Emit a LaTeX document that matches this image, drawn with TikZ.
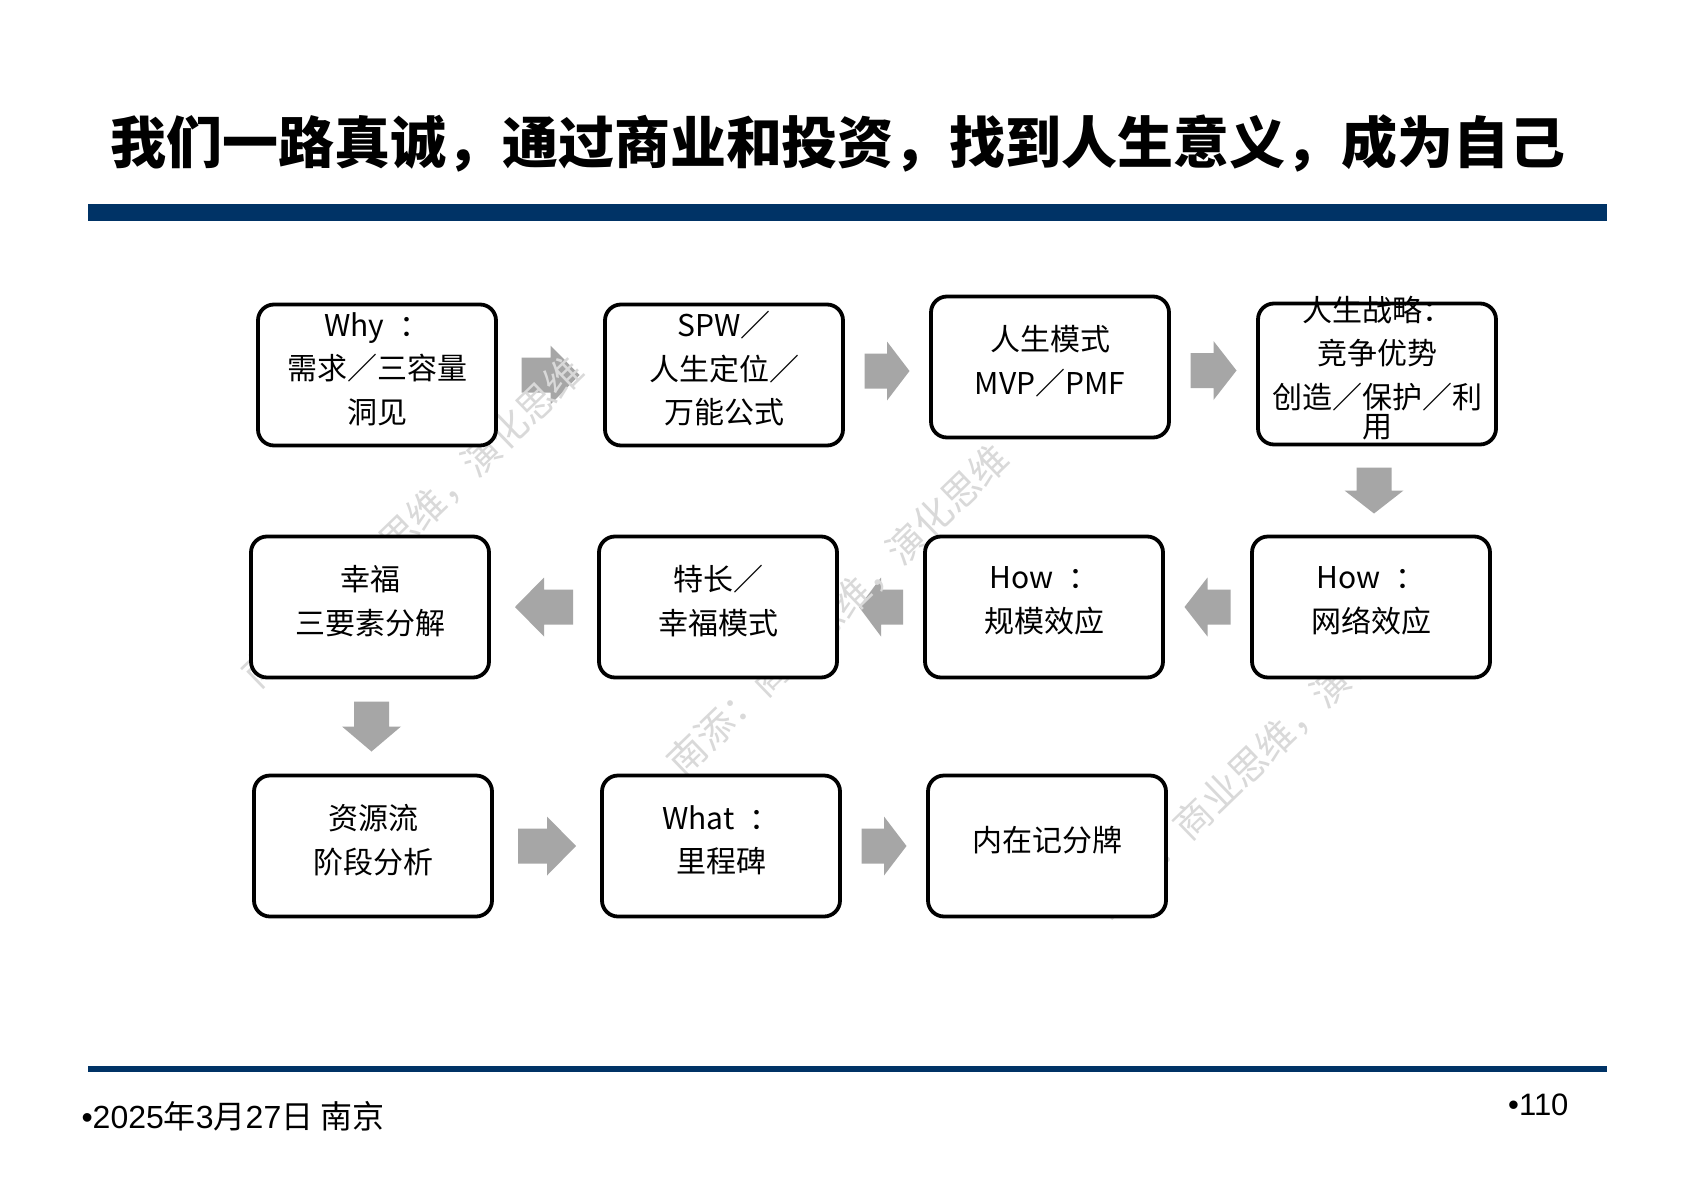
\documentclass[tikz,border=0pt]{standalone}
\usepackage{fontspec}
\setmainfont{Noto Sans CJK SC}
\newfontfamily\arialfont{Liberation Sans}
\usetikzlibrary{calc,backgrounds}
\definecolor{barblue}{HTML}{003366}
\definecolor{arrowgray}{HTML}{A6A6A6}
\definecolor{markgray}{HTML}{D9D9D9}
\tikzset{
  stepbox/.style={draw, line width=3.8pt, rounded corners=16pt, fill=white,
    minimum width=238pt, minimum height=141pt, inner sep=0pt},
  steptext/.style={align=center, inner sep=0pt, font=\fontsize{30}{43.5}\selectfont},
  watermark/.style={text=markgray, rotate=44, inner sep=0pt, font=\fontsize{38}{40}\selectfont},
}
% gray block arrow: centre, direction, length
\newcommand{\blockarrow}[3]{%
  \fill[arrowgray, shift={(#1)}, rotate=#2]
    (-#3/2,-17.5) -- (0,-17.5) -- (0,-29.5) -- (#3/2,0) -- (0,29.5) -- (0,17.5) -- (-#3/2,17.5) -- cycle;}
\begin{document}
\begin{tikzpicture}[x=1pt,y=-1pt]
    \useasboundingbox (0,0) rectangle (1695,1202);
    % title and rules
    \node[font=\bfseries\fontsize{56}{60}\selectfont] (title) at (838,143) {我们一路真诚，通过商业和投资，找到人生意义，成为自己};
    \fill[barblue] (88,204) rectangle (1607,221);
    \fill[barblue] (88,1066) rectangle (1607,1072);
    \node[anchor=west, font=\fontsize{32}{34}\selectfont] (date) at (78,1116) {{\arialfont •2025}年{\arialfont 3}月{\arialfont 27}日 南京};
    \node[anchor=east, font=\arialfont\fontsize{31}{34}\selectfont] (page) at (1572,1105) {•110};
    % boxes
    \node[stepbox] (b1) at (377,375) {};
    \node[stepbox] (b2) at (724,375) {};
    \node[stepbox] (b3) at (1050,367) {};
    \node[stepbox] (b4) at (1377,374) {};
    \node[stepbox] (b5) at (370,607) {};
    \node[stepbox] (b6) at (718,607) {};
    \node[stepbox] (b7) at (1044,607) {};
    \node[stepbox] (b8) at (1371,607) {};
    \node[stepbox] (b9) at (373,846) {};
    \node[stepbox] (b10) at (721,846) {};
    \node[stepbox] (b11) at (1047,846) {};
    \node[steptext] (t1) at ([yshift=6pt]b1.center) {Why\enspace：\\需求／三容量\\洞见};
    \node[steptext] (t2) at ([yshift=6pt]b2.center) {SPW／\\人生定位／\\万能公式};
    \node[steptext] (t3) at ([yshift=6pt]b3.center) {人生模式\\MVP／PMF};
    \node[steptext] (t4) at ([yshift=6pt]b4.center) {人生战略：\\竞争优势\\创造／保护／利\\[-14.5pt]用};
    \node[steptext] (t5) at ([yshift=6pt]b5.center) {幸福\\三要素分解};
    \node[steptext] (t6) at ([yshift=6pt]b6.center) {特长／\\幸福模式};
    \node[steptext] (t7) at ([yshift=6pt]b7.center) {How\enspace：\\规模效应};
    \node[steptext] (t8) at ([yshift=6pt]b8.center) {How\enspace：\\网络效应};
    \node[steptext] (t9) at ([yshift=6pt]b9.center) {资源流\\阶段分析};
    \node[steptext] (t10) at ([yshift=6pt]b10.center) {What\enspace：\\里程碑};
    \node[steptext] (t11) at ([yshift=6pt]b11.center) {内在记分牌};
    % arrows between boxes
    \coordinate (a1) at ($(b1.east)!0.5!(b2.west)$);
    \coordinate (a2) at ($(b2.east)!0.5!(b3.west)$);
    \coordinate (a3) at ($(b3.east)!0.5!(b4.west)$);
    \coordinate (a4) at ($(b4.south)!0.5!(b8.north)$);
    \coordinate (a5) at ($(b8.west)!0.5!(b7.east)$);
    \coordinate (a6) at ($(b7.west)!0.5!(b6.east)$);
    \coordinate (a7) at ($(b6.west)!0.5!(b5.east)$);
    \coordinate (a8) at ($(b5.south)!0.5!(b9.north)$);
    \coordinate (a9) at ($(b9.east)!0.5!(b10.west)$);
    \coordinate (a10) at ($(b10.east)!0.5!(b11.west)$);
    \begin{scope}[on background layer]
        \fill[white] (0,0) rectangle (1695,1202);
        \blockarrow{a1}{0}{58}
        \blockarrow{a2}{0}{45}
        \blockarrow{a3}{0}{46}
        \blockarrow{a4}{-90}{46}
        \blockarrow{a5}{180}{46}
        \blockarrow{a6}{180}{44}
        \blockarrow{a7}{180}{58}
        \blockarrow{a8}{-90}{50}
        \blockarrow{a9}{0}{58}
        \blockarrow{a10}{0}{45}
        % watermark
        \node[watermark] (wm1) at (413,522) {南添：商业思维，演化思维};
        \node[watermark] (wm2) at (838,610) {南添：商业思维，演化思维};
        \node[watermark] (wm3) at (1262,753) {南添：商业思维，演化思维};
    \end{scope}
\end{tikzpicture}
\end{document}
